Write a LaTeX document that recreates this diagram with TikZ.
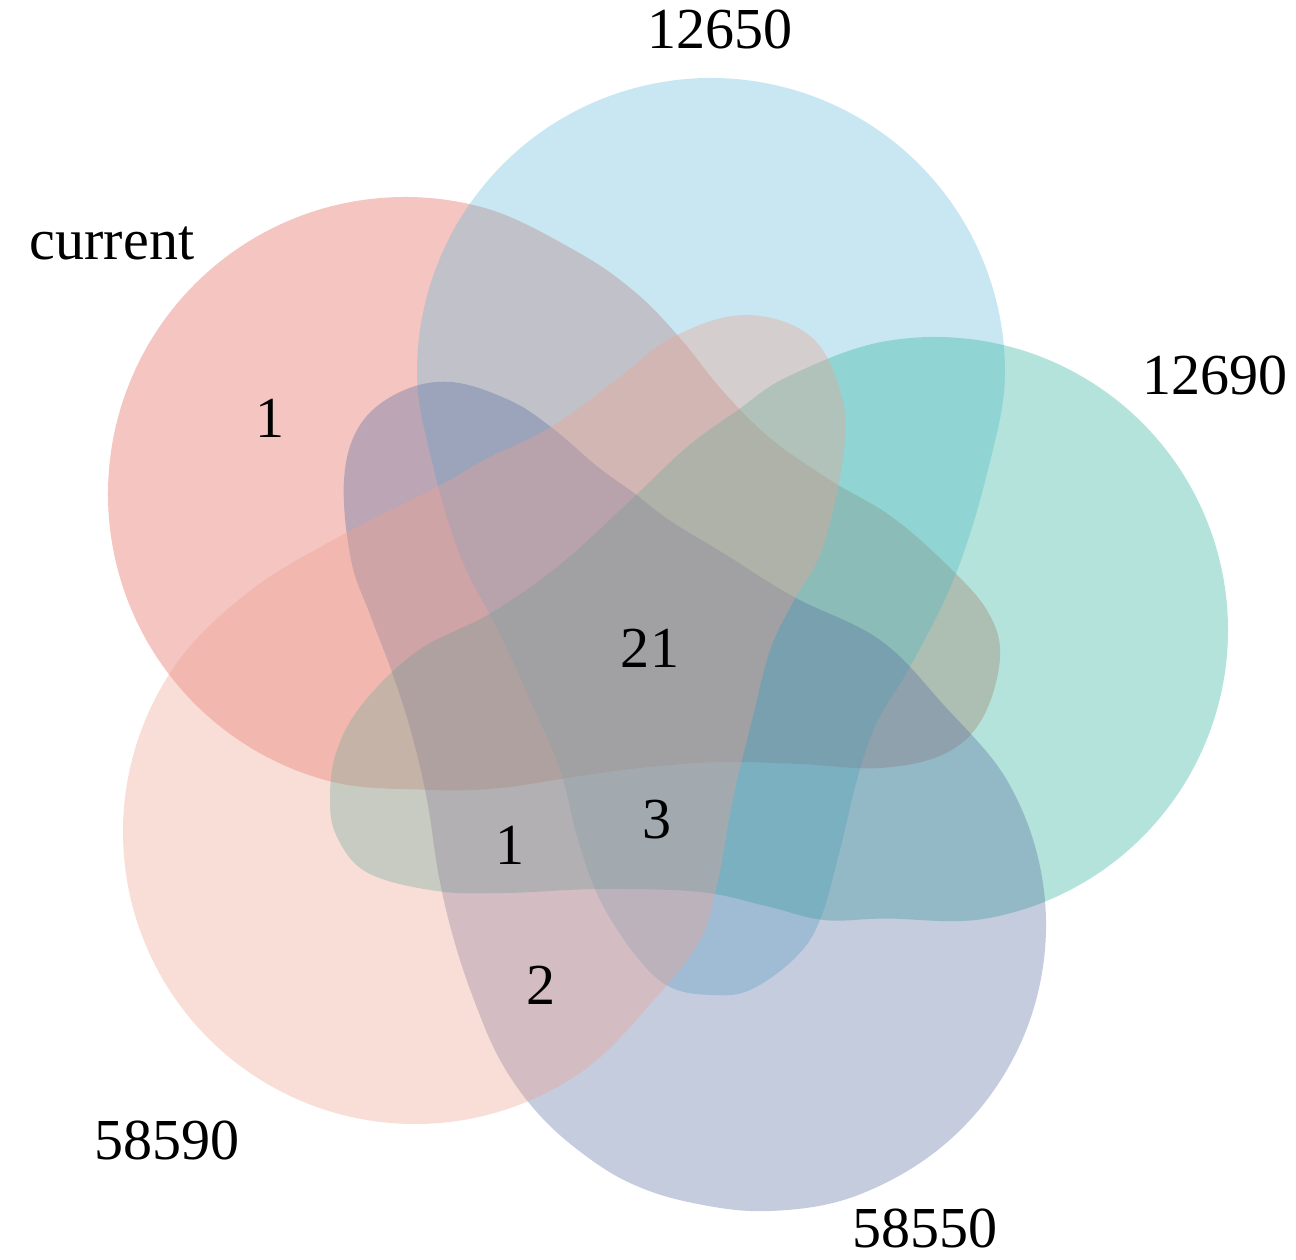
\documentclass[tikz,border=0pt]{standalone}
\usepackage{fontspec}
\setmainfont{Liberation Serif}
\definecolor{cRed}{RGB}{224,91,78}
\definecolor{cCyan}{RGB}{100,189,218}
\definecolor{cTeal}{RGB}{41,177,155}
\definecolor{cLav}{RGB}{86,109,161}
\definecolor{cPink}{RGB}{240,161,143}
\tikzset{
  vset/.style={fill=#1, fill opacity=0.35, draw=none},
  lbl/.style={inner sep=0pt, font=\fontsize{16.5}{19}\selectfont},
}
\begin{document}
\begin{tikzpicture}[x=0.01cm,y=-0.01cm]
\useasboundingbox (0,0) rectangle (1296,1260);
\fill[white] (0,0) rectangle (1296,1260);
% current (red): circle centre (405,494), r 297
\fill[vset=cRed] plot[smooth cycle, tension=0.62] coordinates {
 ([shift={(405,494)}]85:297) ([shift={(405,494)}]105:297) ([shift={(405,494)}]125:297)
 ([shift={(405,494)}]145:297) ([shift={(405,494)}]165:297) ([shift={(405,494)}]185:297)
 ([shift={(405,494)}]205:297) ([shift={(405,494)}]225:297) ([shift={(405,494)}]245:297)
 ([shift={(405,494)}]265:297) ([shift={(405,494)}]285:297) ([shift={(405,494)}]305:297)
 (635,292) (680,338) (722,390) (770,438) (830,480) (892,517) (948,566) (988,612)
 (1000,658) (982,719) (944,754) (880,768) (800,764) (720,762) (640,768) (567,778) (500,788)};
% 12650 (cyan): circle centre (711,372), r 294
\fill[vset=cCyan] plot[smooth cycle, tension=0.62] coordinates {
 ([shift={(711,372)}]160:294) ([shift={(711,372)}]180:294) ([shift={(711,372)}]200:294)
 ([shift={(711,372)}]220:294) ([shift={(711,372)}]240:294) ([shift={(711,372)}]260:294)
 ([shift={(711,372)}]280:294) ([shift={(711,372)}]300:294) ([shift={(711,372)}]320:294)
 ([shift={(711,372)}]340:294) ([shift={(711,372)}]0:294) ([shift={(711,372)}]20:294)
 (955,576) (911,665) (877,722) (857,780) (840,850) (820,920) (795,958) (750,990) (712,995)
 (670,987) (636,956) (600,900) (578,840) (560,770) (530,700) (498,630) (462,560)};
% 12690 (teal): circle centre (935,630), r 293
\fill[vset=cTeal] plot[smooth cycle, tension=0.62] coordinates {
 ([shift={(935,630)}]240:293) ([shift={(935,630)}]260:293) ([shift={(935,630)}]280:293)
 ([shift={(935,630)}]300:293) ([shift={(935,630)}]320:293) ([shift={(935,630)}]340:293)
 ([shift={(935,630)}]0:293) ([shift={(935,630)}]20:293) ([shift={(935,630)}]40:293)
 ([shift={(935,630)}]60:293) ([shift={(935,630)}]80:293) ([shift={(935,630)}]100:293)
 (824,920) (766,906) (700,892) (600,889) (506,893) (437,891) (368,873) (337,837)
 (330,798) (337,750) (364,702) (419,650) (491,613) (562,563) (634,497) (687,447) (738,410)};
% 58550 (lavender): circle centre (758,925), r 288
\fill[vset=cLav] plot[smooth cycle, tension=0.62] coordinates {
 ([shift={(758,925)}]-50:288) ([shift={(758,925)}]-30:288) ([shift={(758,925)}]-10:288)
 ([shift={(758,925)}]10:288) ([shift={(758,925)}]30:288) ([shift={(758,925)}]50:288)
 ([shift={(758,925)}]70:288) (770,1211) (693,1203) (630,1183) (578,1150) (535,1110)
 (500,1060) (474,1000) (454,940) (439,877) (427,800) (412,735)
 (393,675) (371,617) (351,560) (344,480) (360,425) (400,392) (451,382) (509,400)
 (551,427) (598,467) (634,493) (669,520) (723,553) (794,597) (880,640)};
% 58590 (pink): circle centre (415,832), r 292
\fill[vset=cPink] plot[smooth cycle, tension=0.62] coordinates {
 ([shift={(415,832)}]35:292) ([shift={(415,832)}]55:292) ([shift={(415,832)}]75:292)
 ([shift={(415,832)}]95:292) ([shift={(415,832)}]115:292) ([shift={(415,832)}]135:292)
 ([shift={(415,832)}]155:292) ([shift={(415,832)}]175:292) ([shift={(415,832)}]195:292)
 ([shift={(415,832)}]215:292) ([shift={(415,832)}]235:292)
 (333,540) (437,487) (484,460) (551,427) (616,380) (673,337) (744,315) (809,335)
 (840,390) (844,450) (823,547) (794,600) (770,650) (752,720) (733,798) (718,880) (700,940)};
% labels
\node[lbl] (l12650) at (720,29) {12650};
\node[lbl] (lcur) at (112,243) {current};
\node[lbl] (l12690) at (1215,375) {12690};
\node[lbl] (l58590) at (167,1140) {58590};
\node[lbl] (l58550) at (925,1228) {58550};
\node[lbl] (n1a) at (270,418) {1};
\node[lbl] (n21) at (650,648) {21};
\node[lbl] (n3) at (657,820) {3};
\node[lbl] (n1b) at (510,845) {1};
\node[lbl] (n2) at (541,985) {2};
\end{tikzpicture}
\end{document}
